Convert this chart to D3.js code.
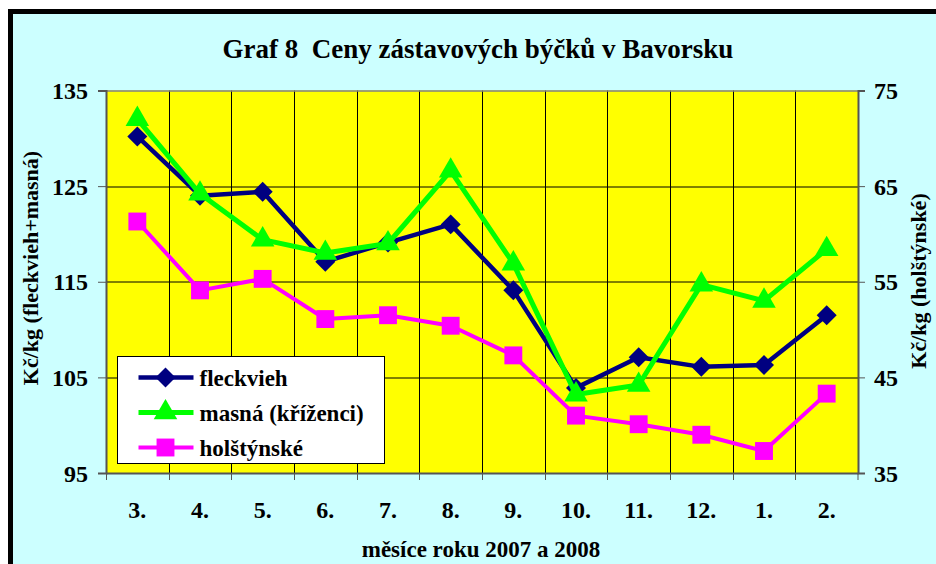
<!DOCTYPE html>
<html>
<head>
<meta charset="utf-8">
<script src="https://cdn.jsdelivr.net/npm/d3@7"></script>
<style>
  body { margin: 0; background: #fff; }
  svg text { font-family: "Liberation Serif", "Times New Roman", serif; font-weight: bold; fill: #000; }
</style>
</head>
<body>
<svg id="chart" width="936" height="564"></svg>
<script>
// data
const months = ['3.', '4.', '5.', '6.', '7.', '8.', '9.', '10.', '11.', '12.', '1.', '2.'];
const fleckvieh = [130.2, 124.0, 124.4, 117.1, 119.1, 121.0, 114.1, 103.9, 107.1, 106.1, 106.3, 111.5];
const masna = [132.0, 124.2, 119.4, 118.0, 119.0, 126.6, 116.9, 103.2, 104.2, 114.7, 113.0, 118.4];
const holstynske = [61.3, 54.1, 55.3, 51.1, 51.5, 50.4, 47.3, 41.0, 40.1, 39.0, 37.3, 43.3];
const leftTicks = [95, 105, 115, 125, 135];
const rightTicks = [35, 45, 55, 65, 75];

const svg = d3.select('#chart');
const margin = {top: 90.5, right: 78, bottom: 91, left: 106};
const width = 936 - margin.left - margin.right;
const height = 564 - margin.top - margin.bottom;

// frame
svg.append('rect').attr('x', 10.5).attr('y', 11.5).attr('width', 940).attr('height', 600)
  .attr('fill', '#ccffff').attr('stroke', '#000').attr('stroke-width', 5);

const g = svg.append('g').attr('transform', `translate(${margin.left},${margin.top})`);

const x = d3.scaleBand().domain(months).range([0, width]).padding(0);
const yL = d3.scaleLinear().domain([95, 135]).range([height, 0]);
const yR = d3.scaleLinear().domain([35, 75]).range([height, 0]);

g.append('rect').attr('width', width).attr('height', height).attr('fill', '#ffff00');

// grid
g.selectAll('.hgrid').data(leftTicks.slice(1, -1)).join('line')
  .attr('x1', 0).attr('x2', width)
  .attr('y1', d => Math.round(yL(d)) + 0.5).attr('y2', d => Math.round(yL(d)) + 0.5)
  .attr('stroke', '#000').attr('stroke-width', 1);
g.selectAll('.vgrid').data(months.slice(1)).join('line')
  .attr('x1', d => Math.round(x(d)) + 0.5).attr('x2', d => Math.round(x(d)) + 0.5)
  .attr('y1', 0).attr('y2', height)
  .attr('stroke', '#000').attr('stroke-width', 1);

g.append('line').attr('x1', 0).attr('x2', width).attr('y1', 0.5).attr('y2', 0.5)
  .attr('stroke', '#808080').attr('stroke-width', 1.5);

// axes
const axL = g.append('g').call(d3.axisLeft(yL).tickValues(leftTicks).tickSize(8).tickPadding(10));
const axR = g.append('g').attr('transform', `translate(${width},0)`)
  .call(d3.axisRight(yR).tickValues(rightTicks).tickSize(7).tickPadding(9));
const axB = g.append('g').attr('transform', `translate(0,${height})`)
  .call(d3.axisBottom(x).tickSize(0).tickPadding(28));

[axL, axR, axB].forEach(a => {
  a.select('.domain').attr('stroke', '#555').attr('stroke-width', 2);
  a.selectAll('.tick line').attr('stroke', '#555');
  a.selectAll('text').style('font-size', '24px').attr('fill', '#000');
});
axL.selectAll('text').attr('dy', '0.34em');
axR.selectAll('text').attr('dy', '0.34em');

// small tick marks under the x axis at category borders
g.selectAll('.xtick').data(months.slice(1).concat(['end'])).join('line')
  .attr('x1', d => d === 'end' ? width : Math.round(x(d)) + 0.5)
  .attr('x2', d => d === 'end' ? width : Math.round(x(d)) + 0.5)
  .attr('y1', height).attr('y2', height + 7)
  .attr('stroke', '#555');
g.append('line').attr('x1', 0.5).attr('x2', 0.5).attr('y1', height).attr('y2', height + 7).attr('stroke', '#555');

// series
const series = [
  {name: 'fleckvieh', values: fleckvieh, y: yL, color: '#000080', width: 4.5, symbol: d3.symbolSquare, size: 200, rot: 45},
  {name: 'masná (kříženci)', values: masna, y: yL, color: '#00ff00', width: 5, symbol: d3.symbolTriangle, size: 240, rot: 0},
  {name: 'holštýnské', values: holstynske, y: yR, color: '#ff00ff', width: 4, symbol: d3.symbolSquare, size: 320, rot: 0}
];

const cx = d => x(d) + x.bandwidth() / 2;

series.forEach(s => {
  const line = d3.line().x((d, i) => cx(months[i])).y(d => s.y(d));
  g.append('path').datum(s.values).attr('d', line)
    .attr('fill', 'none').attr('stroke', s.color).attr('stroke-width', s.width)
    .attr('stroke-linejoin', 'round');
  g.selectAll(null).data(s.values).join('path')
    .attr('transform', (d, i) => `translate(${cx(months[i])},${s.y(d)}) rotate(${s.rot})`)
    .attr('d', d3.symbol().type(s.symbol).size(s.size))
    .attr('fill', s.color);
});

// legend
const lg = svg.append('g').attr('transform', 'translate(117.5,356.5)');
lg.append('rect').attr('width', 267).attr('height', 107).attr('fill', '#fff').attr('stroke', '#000');
series.forEach((s, i) => {
  const yy = 21 + i * 35;
  lg.append('line').attr('x1', 21).attr('x2', 76).attr('y1', yy).attr('y2', yy)
    .attr('stroke', s.color).attr('stroke-width', s.width);
  lg.append('path').attr('transform', `translate(48,${yy}) rotate(${s.rot})`)
    .attr('d', d3.symbol().type(s.symbol).size(s.size)).attr('fill', s.color);
  lg.append('text').attr('x', 82).attr('y', yy).attr('dy', '0.35em')
    .style('font-size', '23px').text(s.name);
});

// titles
svg.append('text').attr('x', 478).attr('y', 58).attr('text-anchor', 'middle')
  .style('font-size', '27px').text('Graf 8  Ceny zástavových býčků v Bavorsku')
  .attr('xml:space', 'preserve');
svg.append('text').attr('transform', 'translate(38,268) rotate(-90)').attr('text-anchor', 'middle')
  .style('font-size', '22px').text('Kč/kg (fleckvieh+masná)');
svg.append('text').attr('transform', 'translate(926,281) rotate(-90)').attr('text-anchor', 'middle')
  .style('font-size', '22px').text('Kč/kg (holštýnské)');
svg.append('text').attr('x', 481).attr('y', 557).attr('text-anchor', 'middle')
  .style('font-size', '23px').text('měsíce roku 2007 a 2008');
</script>
</body>
</html>
